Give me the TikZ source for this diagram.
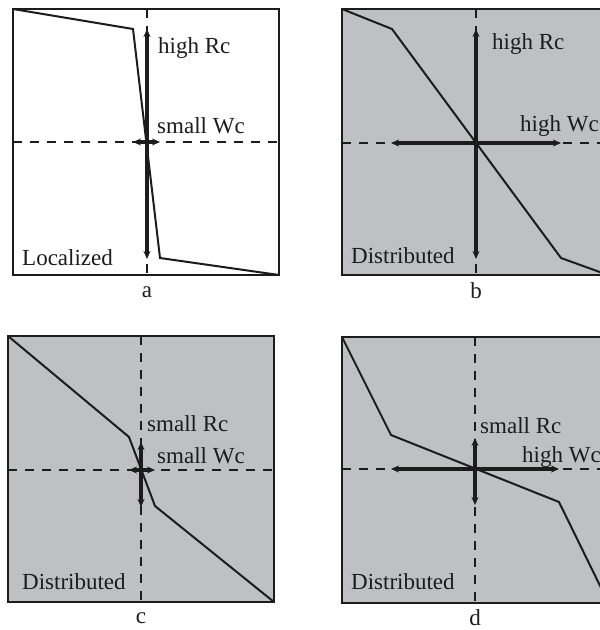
\documentclass[tikz,border=0pt]{standalone}
\usepackage{fontspec}
\setmainfont{Liberation Serif}
\usetikzlibrary{arrows.meta}
\definecolor{panelgray}{RGB}{191,192,196}
\definecolor{ink}{RGB}{28,28,28}
\tikzset{
  panelbox/.style={draw=ink,line width=2pt},
  axisdash/.style={draw=ink,line width=1.1pt,dash pattern=on 9pt off 8pt},
  curveline/.style={draw=ink,line width=2pt,line join=miter},
  dbl/.style={draw=ink,line width=3.2pt,{Stealth[length=8pt,width=7pt]}-{Stealth[length=8pt,width=7pt]}},
  lbl/.style={inner sep=0pt,anchor=base west,text=ink,font=\fontsize{23}{27}\selectfont},
  captionlbl/.style={inner sep=0pt,anchor=base,text=ink,font=\fontsize{23}{27}\selectfont}
}
\begin{document}
\begin{tikzpicture}[x=1pt,y=-1pt]
\useasboundingbox (0,0) rectangle (600,630);
\fill[white] (0,0) rectangle (600,630);
\clip (0,0) rectangle (600,630);
% ---------------- panel a
\coordinate (a1) at (13,9);
\coordinate (a2) at (133,29);
\coordinate (a3) at (160,258);
\coordinate (a4) at (279,275);
\coordinate (aT) at (147,29);
\coordinate (aB) at (147,259);
\coordinate (aL) at (133,142);
\coordinate (aR) at (160,142);
\draw[axisdash] (147,9) -- (147,275);
\draw[axisdash] (13,142) -- (279,142);
\draw[curveline] (a1) -- (a2) -- (a3) -- (a4);
\draw[dbl] (aT) -- (aB);
\draw[dbl] (aL) -- (aR);
\draw[panelbox] (13,9) rectangle (279,275);
\node[lbl] (aRc) at (158,53) {high Rc};
\node[lbl] (aWc) at (157,133) {small Wc};
\node[lbl] (aK) at (22,265) {Localized};
\node[captionlbl] (aN) at (147,297) {a};
% ---------------- panel b
\fill[panelgray] (342,9) rectangle (608,275);
\coordinate (b1) at (342,9);
\coordinate (b2) at (392,29);
\coordinate (b3) at (561,258);
\coordinate (b4) at (608,275);
\coordinate (bT) at (476,29);
\coordinate (bB) at (476,259);
\coordinate (bL) at (391,143);
\coordinate (bR) at (561,143);
\draw[axisdash] (476,9) -- (476,275);
\draw[axisdash] (342,143) -- (608,143);
\draw[curveline] (b1) -- (b2) -- (b3) -- (b4);
\draw[dbl] (bT) -- (bB);
\draw[dbl] (bL) -- (bR);
\draw[panelbox] (342,9) rectangle (608,275);
\node[lbl] (bRc) at (492,49) {high Rc};
\node[lbl] (bWc) at (520,131) {high Wc};
\node[lbl] (bK) at (351,263) {Distributed};
\node[captionlbl] (bN) at (476,298) {b};
% ---------------- panel c
\fill[panelgray] (8,336) rectangle (274,602);
\coordinate (c1) at (8,336);
\coordinate (c2) at (129,437);
\coordinate (c3) at (155,506);
\coordinate (c4) at (274,602);
\coordinate (cT) at (141,442);
\coordinate (cB) at (141,507);
\coordinate (cL) at (129,470);
\coordinate (cR) at (155,470);
\draw[axisdash] (141,336) -- (141,602);
\draw[axisdash] (8,470) -- (274,470);
\draw[curveline] (c1) -- (c2) -- (c3) -- (c4);
\draw[dbl] (cT) -- (cB);
\draw[dbl] (cL) -- (cR);
\draw[panelbox] (8,336) rectangle (274,602);
\node[lbl] (cRc) at (147,431) {small Rc};
\node[lbl] (cWc) at (157,463) {small Wc};
\node[lbl] (cK) at (22,589) {Distributed};
\node[captionlbl] (cN) at (141,623) {c};
% ---------------- panel d
\fill[panelgray] (342,337) rectangle (608,603);
\coordinate (d1) at (342,337);
\coordinate (d2) at (391,435);
\coordinate (d3) at (559,502);
\coordinate (d4) at (608,602);
\coordinate (dT) at (475,438);
\coordinate (dB) at (475,505);
\coordinate (dL) at (391,469);
\coordinate (dR) at (559,469);
\draw[axisdash] (475,337) -- (475,603);
\draw[axisdash] (342,469) -- (608,469);
\draw[curveline] (d1) -- (d2) -- (d3) -- (d4);
\draw[dbl] (dT) -- (dB);
\draw[dbl] (dL) -- (dR);
\draw[panelbox] (342,337) rectangle (608,603);
\node[lbl] (dRc) at (480,433) {small Rc};
\node[lbl] (dWc) at (522,462) {high Wc};
\node[lbl] (dK) at (351,589) {Distributed};
\node[captionlbl] (dN) at (475,625) {d};
\end{tikzpicture}
\end{document}
